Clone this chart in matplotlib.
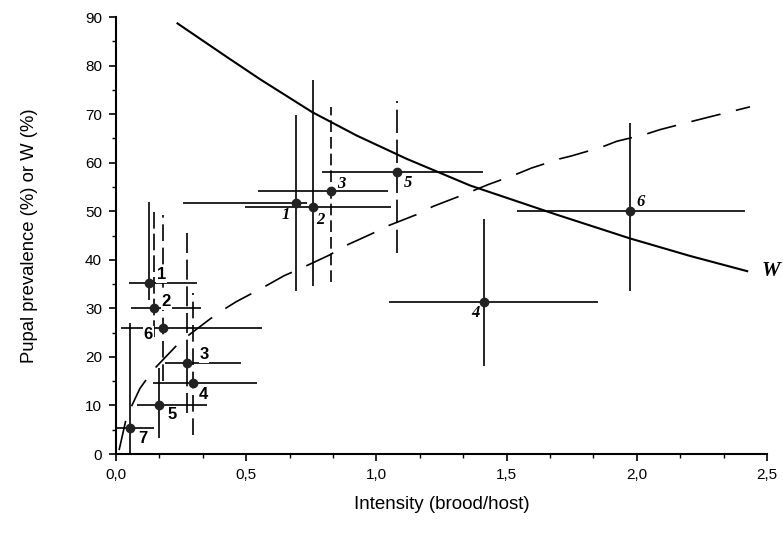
"""Pupal prevalence and W against intensity."""

import matplotlib
matplotlib.use("Agg")
import matplotlib.pyplot as plt
from matplotlib.ticker import MultipleLocator, FuncFormatter

# left group (sans labels)
left_labels = ["1", "2", "3", "4", "5", "6", "7"]
left_x = [0.128, 0.147, 0.274, 0.294, 0.166, 0.182, 0.054]
left_y = [35.2, 30.0, 18.7, 14.6, 10.1, 25.9, 5.4]
left_xlo = [0.051, 0.058, 0.188, 0.143, 0.079, 0.018, 0.0]
left_xhi = [0.310, 0.326, 0.482, 0.540, 0.350, 0.560, 0.146]
left_ylo = [31.8, 24.0, 8.4, 3.9, 3.2, 15.0, 0.0]
left_yhi = [52.0, 50.0, 46.2, 33.1, 17.7, 49.3, 26.9]

# right group (italic labels)
right_labels = ["1", "2", "3", "4", "5", "6"]
right_x = [0.691, 0.758, 0.824, 1.414, 1.080, 1.974]
right_y = [51.7, 50.8, 54.1, 31.4, 58.0, 50.1]
right_xlo = [0.258, 0.495, 0.547, 1.050, 0.790, 1.540]
right_xhi = [0.732, 1.058, 1.045, 1.850, 1.410, 2.415]
right_ylo = [33.5, 34.5, 35.5, 18.1, 41.4, 33.5]
right_yhi = [69.9, 77.1, 71.5, 48.5, 72.6, 68.2]

# W curve (solid)
w_x = [0.233, 0.425, 0.553, 0.754, 0.924, 1.116, 1.36, 1.692, 1.974,
       2.204, 2.428]
w_y = [88.8, 81.8, 77.2, 70.4, 65.6, 60.8, 55.3, 49.3, 44.4, 40.8, 37.6]

# prevalence curve (dashed)
p_x = [0.012, 0.041, 0.092, 0.143, 0.207, 0.248, 0.361, 0.412, 0.463,
       0.562, 0.645, 0.713, 0.821, 0.873, 0.988, 1.04, 1.154, 1.218,
       1.334, 1.43, 1.532, 1.596, 1.705, 1.75, 1.865, 1.923, 2.031,
       2.089, 2.204, 2.30, 2.435]
p_y = [0.8, 7.7, 13.5, 17.3, 20.9, 23.2, 27.8, 29.7, 31.4,
       34.2, 36.7, 38.3, 41.0, 42.7, 45.5, 46.9, 49.3, 51.0,
       53.4, 55.5, 57.5, 58.9, 60.8, 61.4, 63.2, 64.4, 65.8,
       66.8, 68.4, 69.7, 71.5]

# label offsets in points
left_off = [(9, 6), (8.5, 5), (12, 6.5), (8, -8), (9, -7), (-11, -4.5),
            (9.5, -7.5)]
right_off = [(-7, -8.5), (5, -9), (8, 5.5), (-6, -8.5), (7.5, -8),
             (7.5, 6.5)]
left_vstyle = ["solid", (0, (10, 3)), (0, (12, 4)), (0, (10, 4)),
               "solid", (0, (10, 4)), "solid"]
right_vstyle = ["solid", "solid", (0, (7, 3)), "solid", (0, (14, 4)),
                "solid"]


def main():
    """Go Main Go."""
    plt.rcParams["font.family"] = ["Liberation Sans", "DejaVu Sans"]
    fig = plt.figure(figsize=(7.83, 5.35), dpi=100)
    ax = fig.add_axes([0.1481, 0.1514, 0.8314, 0.8168])

    ax.plot(w_x, w_y, color="black", lw=1.5, solid_capstyle="butt")
    ax.plot(p_x, p_y, color="black", lw=1.2, dashes=(18, 9.5))

    ax.hlines(left_y, left_xlo, left_xhi, color="black", lw=1.2)
    ax.vlines(left_x, left_ylo, left_yhi, color="black", lw=1.2,
              linestyles=left_vstyle)
    ax.hlines(right_y, right_xlo, right_xhi, color="black", lw=1.2)
    ax.vlines(right_x, right_ylo, right_yhi, color="black", lw=1.2,
              linestyles=right_vstyle)
    ax.plot(left_x, left_y, "o", color="#222222", ms=6, zorder=5)
    ax.plot(right_x, right_y, "o", color="#222222", ms=6, zorder=5)

    for lab, x, y, off in zip(left_labels, left_x, left_y, left_off):
        ax.annotate(lab, (x, y), xytext=off, textcoords="offset points",
                    ha="center", va="center", fontsize=12,
                    fontweight="bold", zorder=6,
                    bbox=dict(boxstyle="square,pad=0.05", fc="white",
                              ec="none"))
    for lab, x, y, off in zip(right_labels, right_x, right_y, right_off):
        ax.annotate(lab, (x, y), xytext=off, textcoords="offset points",
                    ha="center", va="center", fontsize=12,
                    family="Liberation Serif", style="italic",
                    fontweight="bold")
    ax.annotate("W", (w_x[-1], w_y[-1]), xytext=(16, 0),
                textcoords="offset points", ha="center", va="center",
                fontsize=15, family="Liberation Serif", style="italic",
                fontweight="bold")

    ax.set_xlim(0, 2.5)
    ax.set_ylim(0, 90)
    for side in ("top", "right"):
        ax.spines[side].set_visible(False)
    for side in ("left", "bottom"):
        ax.spines[side].set_linewidth(1.5)
    ax.xaxis.set_major_locator(MultipleLocator(0.5))
    ax.xaxis.set_minor_locator(MultipleLocator(0.5 / 3))
    ax.yaxis.set_major_locator(MultipleLocator(10))
    ax.yaxis.set_minor_locator(MultipleLocator(5))
    ax.xaxis.set_major_formatter(
        FuncFormatter(lambda v, p: ("%.1f" % v).replace(".", ",")))
    ax.tick_params(which="major", length=5, width=1.2, labelsize=11)
    ax.tick_params(which="minor", length=3, width=1.0)
    ax.tick_params(axis="x", pad=5)
    ax.tick_params(axis="y", pad=5)
    ax.set_xlabel("Intensity (brood/host)", fontsize=13.5)
    ax.set_ylabel("Pupal prevalence (%) or W (%)", fontsize=13.3)
    ax.xaxis.set_label_coords(0.5, -0.096)
    ax.yaxis.set_label_coords(-0.12, 0.5)
    fig.savefig("out.png", dpi=100)


if __name__ == "__main__":
    main()
